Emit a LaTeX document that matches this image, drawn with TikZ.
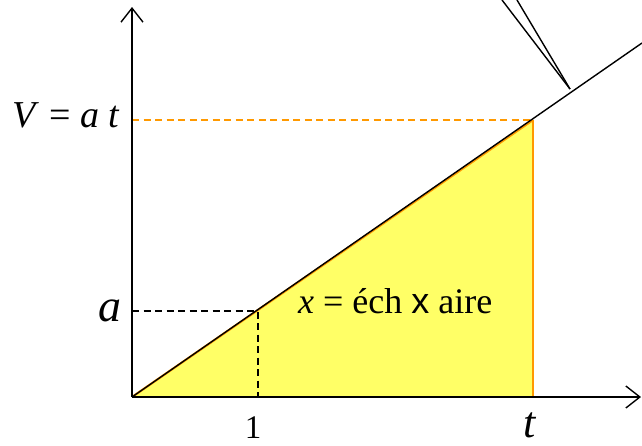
\documentclass[tikz,border=0pt]{standalone}
\usepackage{fontspec}
\setmainfont{Liberation Serif}
\newfontfamily\arialfont{Liberation Sans}
\usetikzlibrary{arrows.meta}
\definecolor{fillyel}{HTML}{FFFF66}
\definecolor{orng}{HTML}{FF9900}
\tikzset{
  axis/.style={line width=1.4pt,-{Straight Barb[length=14pt,width=22pt,line width=1.4pt]}},
  blk/.style={line width=1.4pt,black},
  dsh/.style={line width=1.3pt,dash pattern=on 7pt off 4.5pt},
  lbl/.style={anchor=base,inner sep=0pt}
}
\begin{document}
\begin{tikzpicture}[x=1pt,y=-1pt]
\useasboundingbox (0,0) rectangle (642,445);
\coordinate (O) at (132,397);
\coordinate (Y) at (132,7);
\coordinate (X) at (641,397);
\coordinate (P) at (533,120);
\coordinate (B) at (533,397);
\coordinate (A) at (258,311);
\coordinate (A1) at (258,397);
\coordinate (Ay) at (132,311);
\coordinate (Py) at (132,120);
\coordinate (E) at (642,43);
\coordinate (C) at (570,89);
\coordinate (C1) at (502,0);
\coordinate (C2) at (517,0);
% area
\fill[fillyel] (O) -- (B) -- (P) -- cycle;
\draw[orng,line width=1.4pt] (B) -- (P);
\draw[orng,line width=2.2pt] (O) -- (P);
% dashed guides
\draw[orng,dsh] (Py) -- (P);
\draw[black,dsh] (Ay) -- (A) -- (A1);
% axes
\draw[axis] (O) -- (Y);
\draw[axis] (O) -- (X);
% line
\draw[blk] (O) -- (E);
% pointer
\draw[blk] (C1) -- (C);
\draw[blk] (C2) -- (C);
% labels
\node[lbl,font=\fontsize{38}{38}\selectfont] (lV) at (66,127) {\itshape V\/\upshape{} = \itshape a t};
\node[lbl,font=\fontsize{46}{46}\selectfont] (la) at (110,321) {\itshape a};
\node[lbl,font=\fontsize{33}{33}\selectfont] (l1) at (253,438) {1};
\node[lbl,font=\fontsize{44}{44}\selectfont] (lt) at (530,437) {\itshape t};
\node[lbl,anchor=base west,font=\fontsize{36}{36}\selectfont] (lx) at (298,313) {\itshape x\upshape{} = éch {\arialfont x} aire};
\end{tikzpicture}
\end{document}
